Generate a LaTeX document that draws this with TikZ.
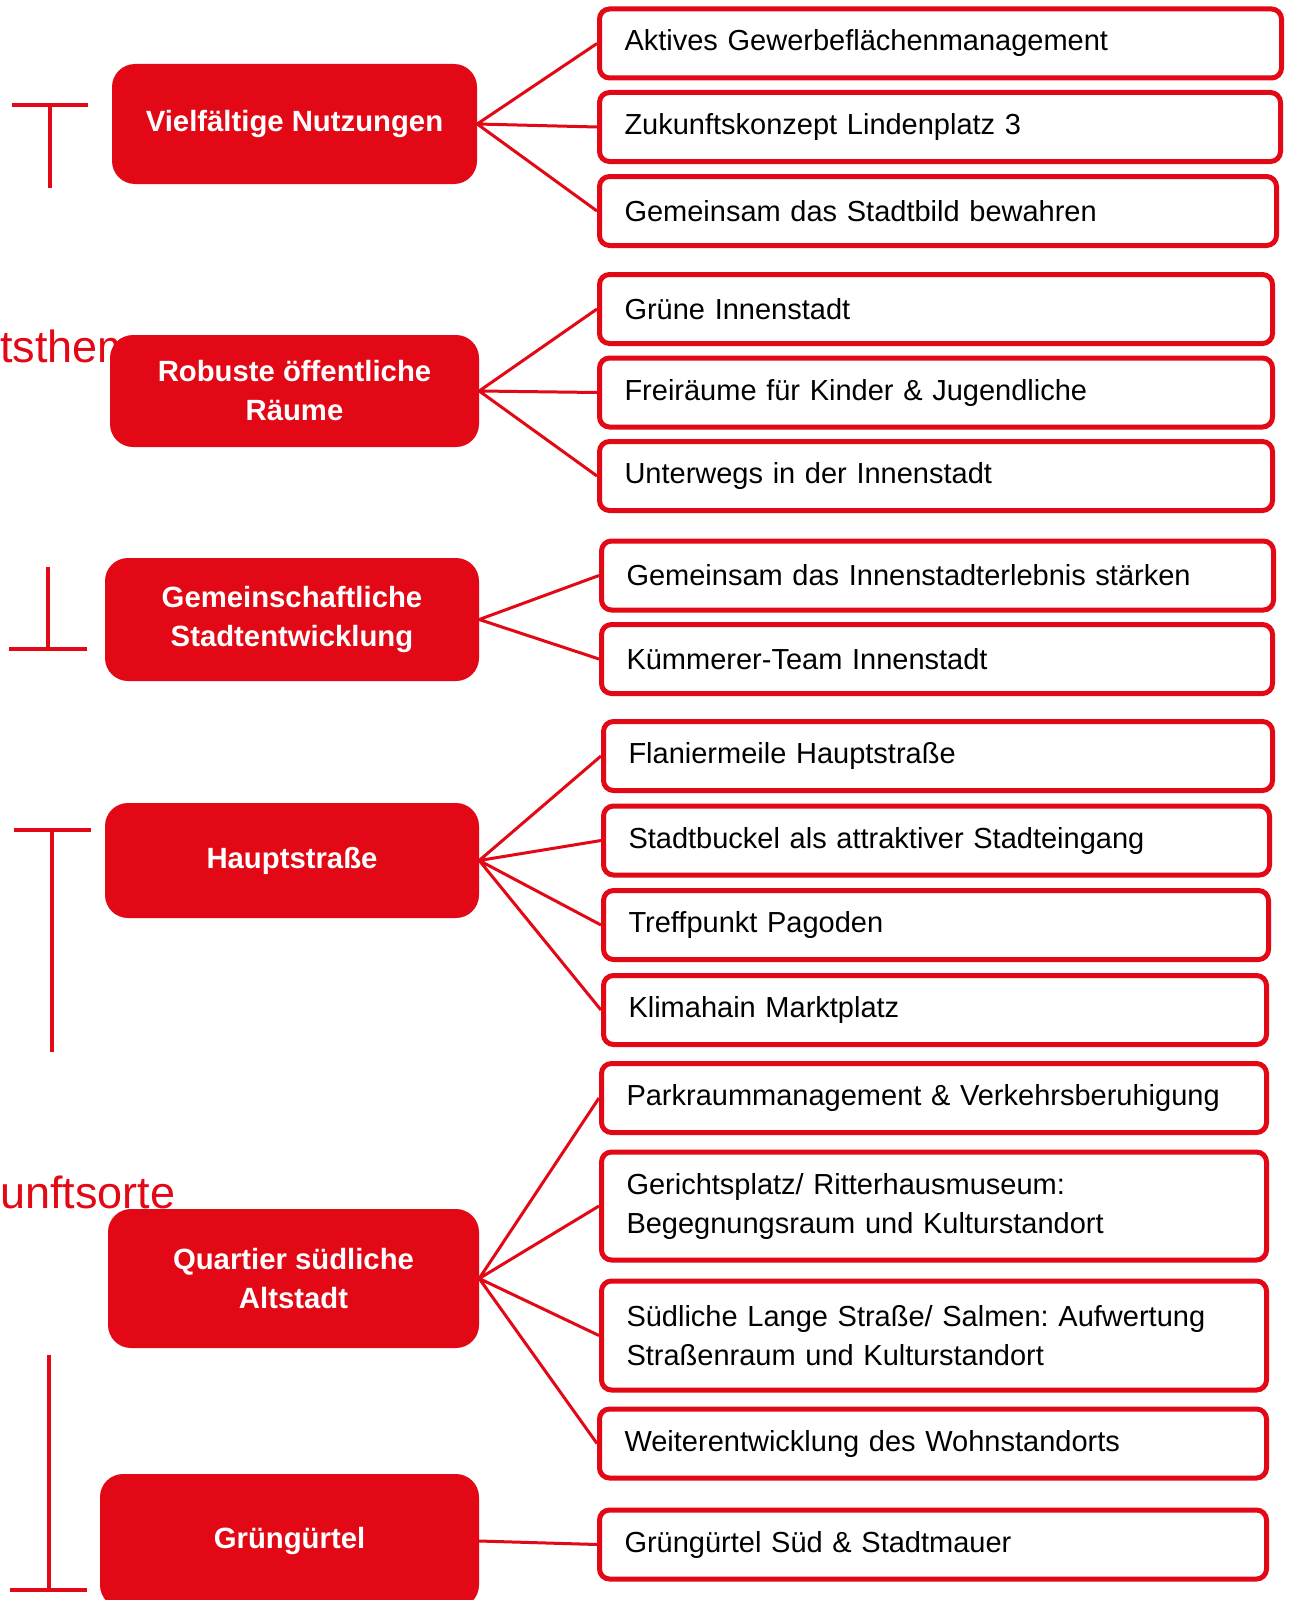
\documentclass[tikz,border=0pt]{standalone}
\usepackage{fontspec}
\setmainfont{Liberation Sans}
\frenchspacing
\definecolor{hred}{RGB}{226,8,22}
\tikzset{
  theme/.style={fill=hred, text=white, rounded corners=23pt, align=center, inner sep=0pt,
    font=\bfseries\fontsize{29.3}{39}\selectfont},
  item/.style={draw=hred, line width=5pt, fill=white, rounded corners=10pt, anchor=west,
    text=black, align=left, inner xsep=25pt, inner ysep=0pt, minimum height=69pt,
    text width=#1, font=\fontsize{29}{39}\selectfont},
  link/.style={draw=hred, line width=3pt},
  beam/.style={draw=hred, line width=4.5pt},
  biglabel/.style={anchor=base west, inner sep=0pt, text=hred, font=\fontsize{45}{54}\selectfont}
}
\begin{document}
\begin{tikzpicture}[x=1pt,y=-1pt]
	\useasboundingbox (0,0) rectangle (1289,1600);
	\node[biglabel] (lbl1) at (0,362) {tsthemen};
	\node[biglabel] (lbl2) at (0,1208) {unftsorte};
	\draw[beam] (12,105) -- (88,105) (50,105) -- (50,188);
	\draw[beam] (48,567) -- (48,649) (9,649) -- (87,649);
	\draw[beam] (14,830) -- (91,830) (52,830) -- (52,1052);
	\draw[beam] (49,1355) -- (49,1590) (10,1590) -- (87,1590);
	\node[theme, minimum width=365pt, minimum height=120pt] (vn) at (294.5,124) {Vielfältige Nutzungen};
	\node[theme, minimum width=369pt, minimum height=112pt] (rr) at (294.5,391) {Robuste öffentliche\\Räume};
	\node[theme, minimum width=374pt, minimum height=123pt] (gs) at (292,619.5) {Gemeinschaftliche\\Stadtentwicklung};
	\node[theme, minimum width=374pt, minimum height=115pt] (hs) at (292,860.5) {Hauptstraße};
	\node[theme, minimum width=371pt, minimum height=139pt] (qa) at (293.5,1278.5) {Quartier südliche\\Altstadt};
	\node[theme, minimum width=379pt, minimum height=134pt] (gg) at (289.5,1541) {Grüngürtel};
	\node[item=632pt] (a1) at (597,43.5) {Aktives Gewerbeflächenmanagement};
	\node[item=631pt] (a2) at (597,127) {Zukunftskonzept Lindenplatz 3};
	\node[item=627pt] (a3) at (597,211) {Gemeinsam das Stadtbild bewahren};
	\node[item=623pt] (b1) at (597,309) {Grüne Innenstadt};
	\node[item=623pt] (b2) at (597,392.5) {Freiräume für Kinder \& Jugendliche};
	\node[item=623pt] (b3) at (597,476) {Unterwegs in der Innenstadt};
	\node[item=622pt] (c1) at (599,575.5) {Gemeinsam das Innenstadterlebnis stärken};
	\node[item=621pt] (c2) at (599,659) {Kümmerer-Team Innenstadt};
	\node[item=619pt] (d1) at (601,756) {Flaniermeile Hauptstraße};
	\node[item=616pt] (d2) at (601,840.5) {Stadtbuckel als attraktiver Stadteingang};
	\node[item=615pt] (d3) at (601,925) {Treffpunkt Pagoden};
	\node[item=613pt] (d4) at (601,1010) {Klimahain Marktplatz};
	\node[item=615pt] (e1) at (599,1098) {Parkraummanagement \& Verkehrsberuhigung};
	\node[item=615pt, minimum height=108pt] (e2) at (599,1206) {Gerichtsplatz/ Ritterhausmuseum:\\Begegnungsraum und Kulturstandort};
	\node[item=615pt, minimum height=109pt] (e3) at (599,1335.5) {Südliche Lange Straße/ Salmen: Aufwertung\\Straßenraum und Kulturstandort};
	\node[item=617pt] (e4) at (597,1443.5) {Weiterentwicklung des Wohnstandorts};
	\node[item=617pt] (f1) at (597,1544.5) {Grüngürtel Süd \& Stadtmauer};
	\draw[link] (vn.east) -- (a1.west) (vn.east) -- (a2.west) (vn.east) -- (a3.west);
	\draw[link] (rr.east) -- (b1.west) (rr.east) -- (b2.west) (rr.east) -- (b3.west);
	\draw[link] (gs.east) -- (c1.west) (gs.east) -- (c2.west);
	\draw[link] (hs.east) -- (d1.west) (hs.east) -- (d2.west) (hs.east) -- (d3.west) (hs.east) -- (d4.west);
	\draw[link] (qa.east) -- (e1.west) (qa.east) -- (e2.west) (qa.east) -- (e3.west) (qa.east) -- (e4.west);
	\draw[link] (gg.east) -- (f1.west);
\end{tikzpicture}
\end{document}
